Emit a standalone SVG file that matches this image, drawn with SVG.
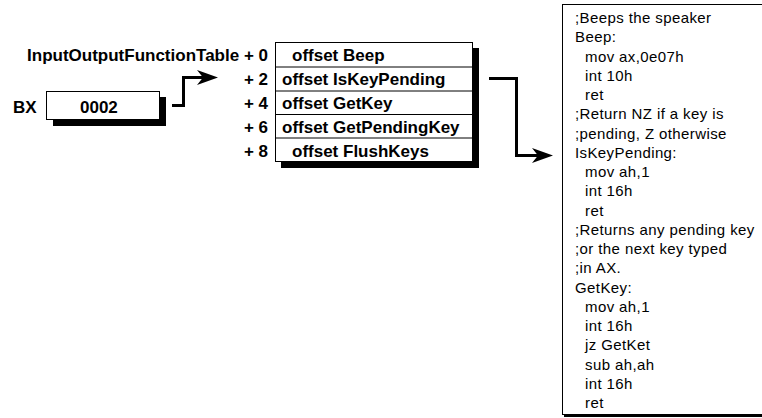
<svg xmlns="http://www.w3.org/2000/svg" width="762" height="418" viewBox="0 0 762 418">
<style>
.b{font-family:"Liberation Sans",Arial,sans-serif;font-weight:bold;font-size:17px;fill:#000}
.c{font-family:"Liberation Sans",Arial,sans-serif;font-size:15px;letter-spacing:0.4px;fill:#000}
.box{fill:#fff;stroke:#000;stroke-width:1}
.sh{fill:#000}
.ln{fill:none;stroke:#000;stroke-width:3;stroke-linejoin:miter}
.ah{fill:#000}
</style>
<rect width="762" height="418" fill="#fff"/>
<g id="table-label">
<text class="b" x="268" y="61" text-anchor="end">InputOutputFunctionTable + 0</text>
<text class="b" x="268" y="85" text-anchor="end">+ 2</text>
<text class="b" x="268" y="109" text-anchor="end">+ 4</text>
<text class="b" x="268" y="133" text-anchor="end">+ 6</text>
<text class="b" x="268" y="157" text-anchor="end">+ 8</text>
</g>
<g id="bx">
<text class="b" x="13" y="113">BX</text>
<rect class="sh" x="53" y="97" width="113" height="29"/>
<rect class="box" x="46.5" y="91.5" width="113" height="28"/>
<text class="b" x="80" y="113">0002</text>
</g>
<g id="table">
<rect class="sh" x="281" y="48" width="198" height="120"/>
<rect class="box" x="275.5" y="42.5" width="197" height="119"/>
<line x1="275.5" y1="67" x2="472.5" y2="67" stroke="#000"/>
<line x1="275.5" y1="91" x2="472.5" y2="91" stroke="#000"/>
<line x1="275.5" y1="114.5" x2="472.5" y2="114.5" stroke="#000"/>
<line x1="275.5" y1="138" x2="472.5" y2="138" stroke="#000"/>
<text class="b" x="292" y="61">offset Beep</text>
<text class="b" x="282" y="85">offset IsKeyPending</text>
<text class="b" x="282" y="109">offset GetKey</text>
<text class="b" x="282" y="133">offset GetPendingKey</text>
<text class="b" x="292" y="157">offset FlushKeys</text>
</g>
<g id="code">
<rect x="564" y="414" width="200" height="3" fill="#000"/>
<rect class="box" x="562.5" y="4.5" width="203" height="410"/>
<text class="c" x="575" y="23">;Beeps the speaker</text>
<text class="c" x="575" y="42.25">Beep:</text>
<text class="c" x="585" y="61.5">mov ax,0e07h</text>
<text class="c" x="585" y="80.75">int 10h</text>
<text class="c" x="585" y="100">ret</text>
<text class="c" x="575" y="119.25">;Return NZ if a key is</text>
<text class="c" x="575" y="138.5">;pending, Z otherwise</text>
<text class="c" x="575" y="157.75">IsKeyPending:</text>
<text class="c" x="585" y="177">mov ah,1</text>
<text class="c" x="585" y="196.25">int 16h</text>
<text class="c" x="585" y="215.5">ret</text>
<text class="c" x="575" y="234.75">;Returns any pending key</text>
<text class="c" x="575" y="254">;or the next key typed</text>
<text class="c" x="575" y="273.25">;in AX.</text>
<text class="c" x="575" y="292.5">GetKey:</text>
<text class="c" x="585" y="311.75">mov ah,1</text>
<text class="c" x="585" y="331">int 16h</text>
<text class="c" x="585" y="350.25">jz GetKet</text>
<text class="c" x="585" y="369.5">sub ah,ah</text>
<text class="c" x="585" y="388.75">int 16h</text>
<text class="c" x="585" y="408">ret</text>
</g>
<g id="connectors">
<polyline class="ln" points="172,105.5 183.5,105.5 183.5,77.5 203,77.5"/>
<polygon class="ah" points="218,77.5 197,70 203,77.5 197,85"/>
<polyline class="ln" points="489,78.5 516.5,78.5 516.5,155.5 538,155.5"/>
<polygon class="ah" points="553,155.5 532,148 538,155.5 532,163"/>
</g>
</svg>
